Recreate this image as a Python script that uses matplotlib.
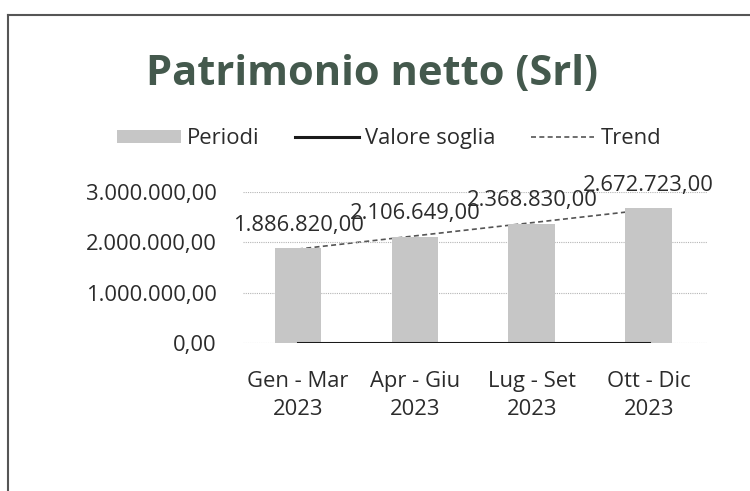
import numpy as np
import matplotlib
matplotlib.use('Agg')
import matplotlib.pyplot as plt
from matplotlib.lines import Line2D

plt.rcParams['font.family'] = ['Open Sans', 'DejaVu Sans']

# ── Data ─────────────────────────────────────────────────────────────────────
periodi = ['Gen - Mar\n2023', 'Apr - Giu\n2023', 'Lug - Set\n2023', 'Ott - Dic\n2023']
patrimonio = [1886820.00, 2106649.00, 2368830.00, 2672723.00]
valore_soglia = [0, 0, 0, 0]
y_ticks = [0, 1000000, 2000000, 3000000]


def fmt_it(v):
    s = f'{v:,.2f}'
    return s.replace(',', 'X').replace('.', ',').replace('X', '.')


x = np.arange(len(periodi))
# linear trend line (as Excel draws it) from the bar values
coef = np.polyfit(x, patrimonio, 1)
trend = np.polyval(coef, x)

TEXT = '#2b2b2b'
FS = 15.8
fig = plt.figure(figsize=(7.5, 4.91), dpi=100)
ax = fig.add_axes([0.324, 0.3014, 0.619, 0.3076])

trend_line, = ax.plot(x, trend, color='#555555', lw=1.2, ls=(0, (3, 2)),
                      zorder=1, label='Trend')
bars = ax.bar(x, patrimonio, width=0.40, color='#c6c6c6', zorder=2, label='Periodi')
soglia, = ax.plot(x, valore_soglia, color='#1a1a1a', lw=2.2, zorder=3,
                  label='Valore soglia')

for xi, v in zip(x, patrimonio):
    ax.annotate(fmt_it(v), (xi, v), xytext=(0, 9), textcoords='offset points',
                ha='center', va='bottom', fontsize=FS, color=TEXT)

ax.set_xlim(-0.47, 3.5)
ax.set_ylim(0, 3000000)
ax.set_yticks(y_ticks)
ax.set_yticklabels([fmt_it(v) for v in y_ticks])
ax.set_xticks(x)
ax.set_xticklabels(periodi, linespacing=1.45)
ax.tick_params(axis='both', length=0, labelsize=FS, colors=TEXT)
ax.tick_params(axis='y', pad=19)
ax.tick_params(axis='x', pad=20)
ax.grid(axis='y', color='#b5b5b5', lw=0.8, ls=(0, (1, 1)), zorder=0)
for sp in ax.spines.values():
    sp.set_visible(False)

fig.suptitle('Patrimonio netto (Srl)', x=0.496, y=0.848, va='center',
             fontsize=30, fontweight='bold', color='#44594d')

fig.legend(handles=[bars, soglia, trend_line],
           labels=['Periodi', 'Valore soglia', 'Trend'],
           loc='center', bbox_to_anchor=(0.519, 0.717), ncol=3, frameon=False,
           fontsize=FS, handlelength=2.9, handleheight=0.5, handletextpad=0.3,
           columnspacing=1.6, labelcolor=TEXT)

# outer chart frame (scan edge)
fig.add_artist(Line2D([0.011, 0.011], [0.0, 0.97], color='#555555', lw=1.5))
fig.add_artist(Line2D([0.011, 1.0], [0.97, 0.97], color='#555555', lw=1.5))

fig.savefig('out.png', dpi=100)
